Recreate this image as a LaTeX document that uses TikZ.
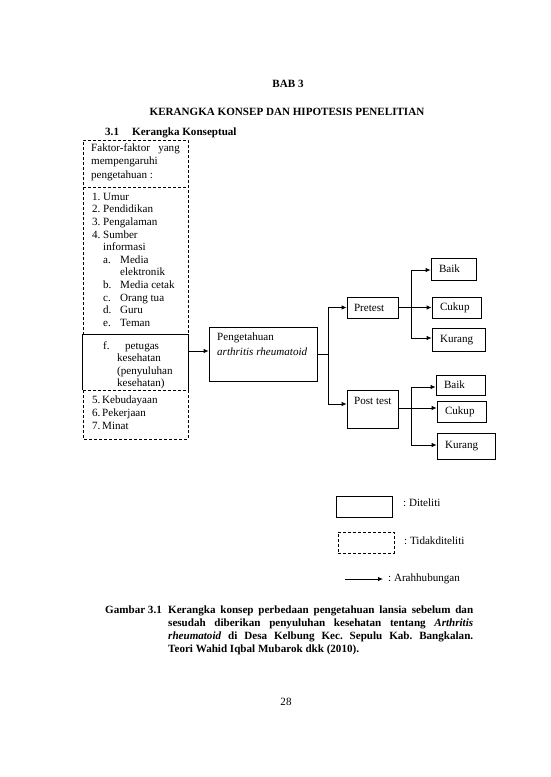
\documentclass[tikz,border=0pt]{standalone}
\usepackage{fontspec}
\setmainfont{Liberation Serif}
\usetikzlibrary{arrows.meta}
\newcommand\fsz{\fontsize{11.08}{12.7}\selectfont}
\frenchspacing
\begin{document}
\begin{tikzpicture}[x=1pt,y=-1pt,font=\fsz,
  txt/.style={anchor=mid west, inner sep=0pt},
  ctxt/.style={anchor=mid, inner sep=0pt},
  ln/.style={line width=0.8pt},
  dsh/.style={line width=0.8pt, dash pattern=on 3pt off 2pt},
  obox/.style={draw, line width=0.8pt, inner xsep=8pt, inner ysep=0pt, align=left},
  arr/.style={line width=0.8pt, -{Latex[length=5pt,width=4.5pt]}}]
\useasboundingbox (0,0) rectangle (550,777);
\fill[white] (0,0) rectangle (550,777);

% headings
\node[ctxt, font=\fsz\bfseries] (bab) at (288,85) {BAB 3};
\node[ctxt, font=\fsz\bfseries] (judul) at (287,113) {KERANGKA KONSEP DAN HIPOTESIS PENELITIAN};
\node[txt, font=\fsz\bfseries] (sub1) at (105,133) {3.1};
\node[txt, font=\fsz\bfseries] (sub2) at (132,133) {Kerangka Konseptual};

% left factor box
\draw[dsh] (83,335) -- (83,140) -- (188,140) -- (188,335);
\draw[dsh] (83,187) -- (188,187);
\node[txt] (f1) at (91,149) {Faktor-faktor};
\node[anchor=mid east, inner sep=0pt] (f1b) at (180,149) {yang};
\node[txt] (f2) at (91,162.5) {mempengaruhi};
\node[txt] (f3) at (91,176) {pengetahuan :};

\node[txt] (n1) at (92,198) {1.};   \node[txt] (t1) at (103,198) {Umur};
\node[txt] (n2) at (92,210.6) {2.}; \node[txt] (t2) at (103,210.6) {Pendidikan};
\node[txt] (n3) at (92,223.2) {3.}; \node[txt] (t3) at (103,223.2) {Pengalaman};
\node[txt] (n4) at (92,235.8) {4.}; \node[txt] (t4) at (103,235.8) {Sumber};
\node[txt] (t4b) at (103,248.4) {informasi};
\node[txt] (na) at (103,261) {a.}; \node[txt] (ta) at (120,261) {Media};
\node[txt] (ta2) at (120,273.6) {elektronik};
\node[txt] (nb) at (103,286.2) {b.}; \node[txt] (tb) at (120,286.2) {Media cetak};
\node[txt] (nc) at (103,298.8) {c.}; \node[txt] (tc) at (120,298.8) {Orang tua};
\node[txt] (nd) at (103,311.4) {d.}; \node[txt] (td) at (120,311.4) {Guru};
\node[txt] (ne) at (103,324) {e.};  \node[txt] (te) at (120,324) {Teman};

% petugas (solid) box
\node[minimum width=105pt, minimum height=55pt, inner sep=0pt] (fb) at (135.5,362.5) {};
\draw[ln] (fb.south west) -- (fb.north west) -- (fb.north east) -- (fb.south east);
\node[txt] (nf) at (103,347) {f.}; \node[txt] (tf) at (125,347) {petugas};
\node[txt] (tf2) at (117,359.5) {kesehatan};
\node[txt] (tf3) at (117,372) {(penyuluhan};
\node[txt] (tf4) at (117,384) {kesehatan)};

% lower dashed part
\draw[dsh] (83,390) rectangle (188,439);
\node[txt] (n5) at (92,401) {5.}; \node[txt] (t5) at (102,401) {Kebudayaan};
\node[txt] (n6) at (92,414) {6.}; \node[txt] (t6) at (102,414) {Pekerjaan};
\node[txt] (n7) at (92,427) {7.}; \node[txt] (t7) at (102,427) {Minat};

% pengetahuan box
\node[draw, line width=0.8pt, minimum width=108pt, minimum height=54pt, inner sep=0pt] (pk) at (263,354) {};
\node[txt] (pk1) at (217,338) {Pengetahuan};
\node[txt] (pk2) at (217,353) {\itshape arthritis rheumatoid};

\coordinate (y351) at (0,351);
\draw[arr] (fb.east |- y351) -- (pk.west |- y351);

% pretest / post test
\node[obox, inner xsep=7pt, text width=37pt, minimum height=21pt] (pre) at (372.5,307.5) {Pretest};
\node[draw, line width=0.8pt, minimum width=51pt, minimum height=38pt, inner sep=0pt] (post) at (372.5,409) {};
\node[txt] (postt) at (354,402) {Post test};

\coordinate (j1) at (328,354);
\draw[ln] (pk.east) -- (j1);
\draw[arr] (j1) |- (pre.west);
\draw[arr] (j1) |- ([yshift=5pt]post.west);

% pretest outcomes
\node[obox, text width=29pt, minimum height=22pt] (b1) at (453.5,269) {Baik};
\node[obox, text width=33pt, minimum height=21pt] (c1) at (456.5,307.5) {Cukup};
\node[obox, text width=37pt, minimum height=23pt] (k1) at (458.5,340) {Kurang};
\coordinate (j2) at (411,307.5);
\draw[arr] (pre.east) -- (c1.west);
\draw[arr] (j2) |- ([yshift=-1pt]b1.west);
\draw[arr] (j2) |- ([yshift=2pt]k1.west);

% post test outcomes
\node[obox, text width=33pt, minimum height=20pt] (b2) at (460.5,385) {Baik};
\node[obox, text width=33pt, minimum height=21pt] (c2) at (461.5,411.5) {Cukup};
\node[obox, text width=42pt, minimum height=26pt] (k2) at (466,446) {Kurang};
\coordinate (j3) at (411,408);
\draw[arr] (post.east |- j3) -- (c2.west |- j3);
\draw[arr] (j3) |- ([yshift=-2pt]b2.west);
\draw[arr] (j3) |- ([yshift=1pt]k2.west);

% legend
\node[draw, line width=0.8pt, minimum width=56pt, minimum height=21pt, inner sep=0pt] (leg1) at (364,506.5) {};
\node[txt] (leg1t) at (403,504) {: Diteliti};
\node[draw, dsh, minimum width=56pt, minimum height=21pt, inner sep=0pt] (leg2) at (366,542.5) {};
\node[txt] (leg2t) at (404,542) {: Tidakditeliti};
\coordinate (la) at (345,579);
\coordinate (lb) at (383,579);
\draw[arr] (la) -- (lb);
\node[txt] (leg3t) at (388,579) {: Arahhubungan};

% caption
\begin{scope}[font=\fsz\bfseries]
\node[txt] (cap0) at (105,611) {Gambar 3.1};
\node[txt] (cap1) at (168,611) {\hbox to 305pt{Kerangka konsep perbedaan pengetahuan lansia sebelum dan}};
\node[txt] (cap2) at (168,624) {\hbox to 305pt{sesudah diberikan penyuluhan kesehatan tentang \textit{Arthritis}}};
\node[txt] (cap3) at (168,637) {\hbox to 305pt{\textit{rheumatoid} di Desa Kelbung Kec. Sepulu Kab. Bangkalan.}};
\node[txt] (cap4) at (168,650) {Teori Wahid Iqbal Mubarok dkk (2010).};
\end{scope}

\node[ctxt] (hal) at (286,703) {28};
\end{tikzpicture}
\end{document}
